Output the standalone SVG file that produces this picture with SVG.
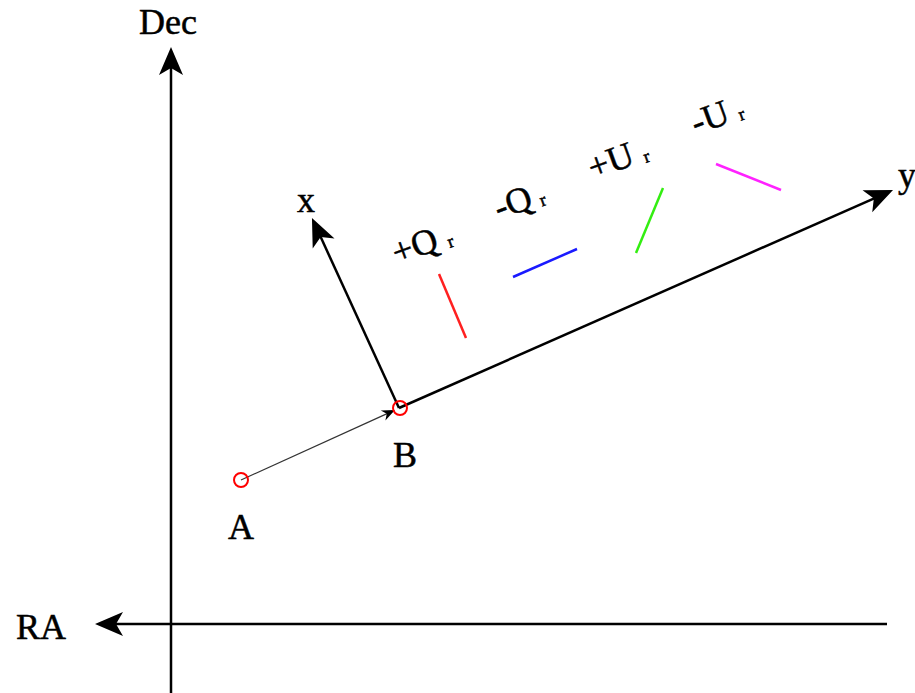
<svg xmlns="http://www.w3.org/2000/svg" width="915" height="693" viewBox="0 0 915 693">
<defs>
<style>
text{font-family:"Liberation Serif","Times New Roman",serif;fill:#000;stroke:#000;stroke-width:0.5;}
.lbl{font-size:36px;}
.pol{font-size:36px;}
.sub{font-size:18px;}
.axis{stroke:#000;stroke-width:2.5;fill:none;}
.thin{stroke:#333;stroke-width:1.2;fill:none;}
.pt{stroke:#f00;stroke-width:2;fill:none;}
.seg{stroke-width:2.5;fill:none;}
</style>
<marker id="big" markerUnits="userSpaceOnUse" orient="auto" refX="0" refY="0" markerWidth="40" markerHeight="40" overflow="visible">
<path d="M15,0 L-13,-12 L-6,0 L-13,12 Z" fill="#000"/>
</marker>
<marker id="small" markerUnits="userSpaceOnUse" orient="auto" refX="0" refY="0" markerWidth="20" markerHeight="20" overflow="visible">
<path d="M5,0 L-8,-5.5 L-4,0 L-8,5.5 Z" fill="#000"/>
</marker>
</defs>
<rect width="915" height="693" fill="#fff"/>
<g id="connectors">
<line id="dec-axis" class="axis" x1="171" y1="693" x2="171" y2="62" marker-end="url(#big)"/>
<line id="ra-axis" class="axis" x1="887" y1="624" x2="110" y2="624" marker-end="url(#big)"/>
<line id="y-axis" class="axis" x1="399" y1="408" x2="879.3" y2="196.1" marker-end="url(#big)"/>
<line id="x-axis" class="axis" x1="399" y1="408" x2="318.2" y2="231.6" marker-end="url(#big)"/>
<line id="a-to-b" class="thin" x1="241" y1="480" x2="390.4" y2="412.1" marker-end="url(#small)"/>
</g>
<g id="axis-labels">
<text class="lbl" x="139" y="34">Dec</text>
<text class="lbl" x="16" y="639">RA</text>
<text class="lbl" x="297" y="212">x</text>
<text class="lbl" x="898" y="187">y</text>
</g>
<g id="A">
<circle class="pt" cx="241" cy="480" r="7"/>
<text class="lbl" x="228" y="539">A</text>
</g>
<g id="B">
<circle class="pt" cx="400" cy="408" r="7"/>
<text class="lbl" x="393" y="467">B</text>
</g>
<g id="plusQ">
<line class="seg" stroke="#ff2020" x1="439" y1="274" x2="466" y2="338"/>
<text class="pol" transform="translate(397,265) rotate(-20)">+Q<tspan class="sub" dx="9" dy="2">r</tspan></text>
</g>
<g id="minusQ">
<line class="seg" stroke="#1a1aff" x1="513" y1="277" x2="577" y2="249"/>
<text class="pol" transform="translate(499,220) rotate(-20)">-Q<tspan class="sub" dx="7" dy="2">r</tspan></text>
</g>
<g id="plusU">
<line class="seg" stroke="#33ee11" x1="663" y1="188" x2="636" y2="253"/>
<text class="pol" transform="translate(593,180) rotate(-20)">+U<tspan class="sub" dx="9" dy="2">r</tspan></text>
</g>
<g id="minusU">
<line class="seg" stroke="#ff22ff" x1="716" y1="164" x2="781" y2="190"/>
<text class="pol" transform="translate(696,135) rotate(-20)">-U<tspan class="sub" dx="9" dy="2">r</tspan></text>
</g>
</svg>
